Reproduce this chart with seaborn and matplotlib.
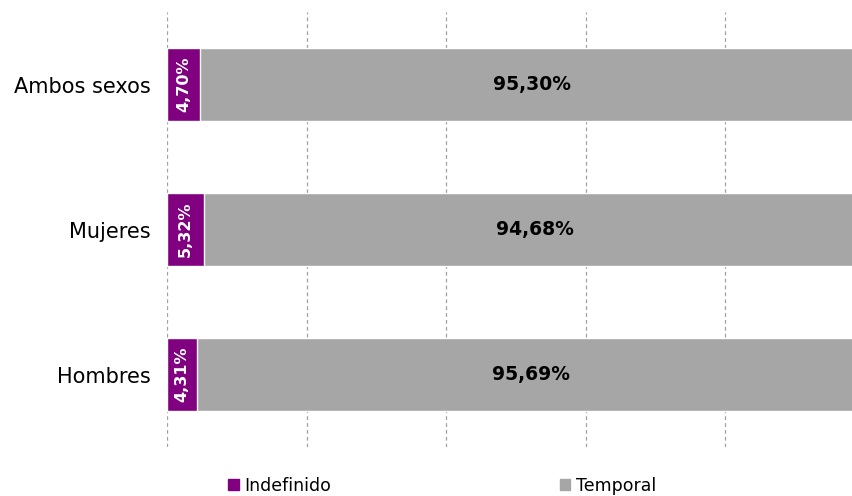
import matplotlib
matplotlib.use("Agg")
import matplotlib.pyplot as plt
import seaborn as sns
import pandas as pd
from matplotlib.patches import Patch

# data
groups = ["Ambos sexos", "Mujeres", "Hombres"]
indefinido = [4.70, 5.32, 4.31]
temporal = [95.30, 94.68, 95.69]

purple = "#800080"
grey = "#a6a6a6"

df = pd.DataFrame({"grupo": groups, "Indefinido": indefinido, "Temporal": temporal})
df["total"] = df["Indefinido"] + df["Temporal"]

sns.set_style("white")
plt.rcParams["font.family"] = ["DejaVu Sans"]

fig = plt.figure(figsize=(8.53, 4.96), dpi=100)
ax = fig.add_axes([167 / 853, 1 - 447 / 496, 698 / 853, 435 / 496])

# stacked: draw the full bar in grey, then the purple part on top
sns.barplot(data=df, y="grupo", x="total", color=grey, width=0.5,
            orient="h", ax=ax, saturation=1)
sns.barplot(data=df, y="grupo", x="Indefinido", color=purple, width=0.5,
            orient="h", ax=ax, saturation=1)

ax.set_xlim(0, 100)
ax.set_ylim(2.5, -0.5)
ax.set_xticks([0, 20, 40, 60, 80])
ax.xaxis.grid(True, linestyle=(0, (3, 2.5)), color="#a0a0a0", linewidth=0.9)
ax.set_axisbelow(True)
ax.set_xticklabels([])
ax.tick_params(axis="x", length=0)
ax.tick_params(axis="y", length=0, pad=12, labelsize=15, labelcolor="black")
ax.set_xlabel("")
ax.set_ylabel("")
for s in ax.spines.values():
    s.set_visible(False)

def fmt(v):
    return f"{v:.2f}%".replace(".", ",")

for i, (a, b) in enumerate(zip(indefinido, temporal)):
    ax.text(a / 2, i, fmt(a), rotation=90, ha="center", va="center",
            color="white", fontweight="bold", fontsize=11.5)
    ax.text(a + b / 2, i, fmt(b), ha="center", va="center",
            color="black", fontweight="bold", fontsize=13.5)

handles = [Patch(color=purple, label="Indefinido"), Patch(color=grey, label="Temporal")]
fig.legend(handles=handles, loc="center", bbox_to_anchor=(442 / 853, 1 - 486 / 496),
           ncol=2, frameon=False, fontsize=12.5, handlelength=0.6, handleheight=0.6,
           handletextpad=0.3, columnspacing=13.2, borderaxespad=0, labelcolor="black")

fig.savefig("out.png", dpi=100)
